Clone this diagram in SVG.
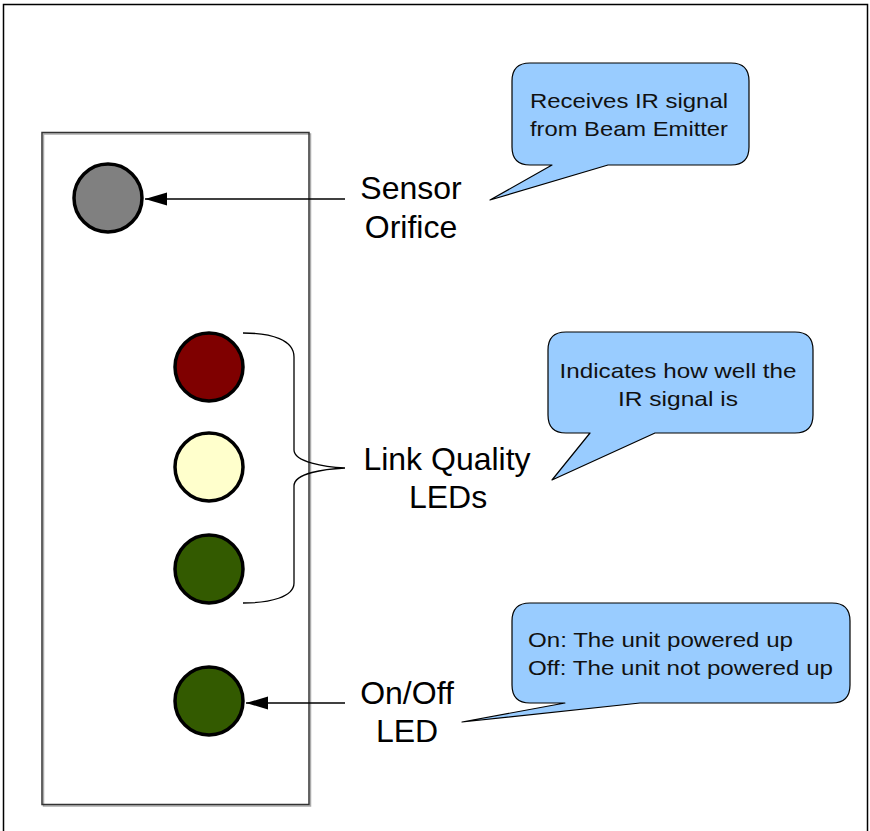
<svg xmlns="http://www.w3.org/2000/svg" width="870" height="831" viewBox="0 0 870 831">
<style>
.led{stroke:#000;stroke-width:3.5}
.lbl{font-family:"Liberation Sans",Arial,sans-serif;font-size:32px;fill:#000;text-anchor:middle}
.bub{fill:#99ccff;stroke:#000;stroke-width:1.2;stroke-linejoin:round}
.bt{font-family:"Liberation Sans",Arial,sans-serif;font-size:21px;fill:#111}
.conn{fill:none;stroke:#000;stroke-width:1.3}
</style>
<defs>
<marker id="ah" markerUnits="userSpaceOnUse" markerWidth="24" markerHeight="16" viewBox="0 0 24 16" refX="22" refY="8" orient="auto">
<path d="M0,1.5 L22,8 L0,14.5 Z" fill="#000"/>
</marker>
</defs>
<rect x="3.5" y="4.5" width="864" height="840" fill="#fff" stroke="#000" stroke-width="1.5"/>
<g id="panel">
<rect x="43.5" y="134" width="267" height="672" fill="none" stroke="#aaa" stroke-width="1.5"/>
<rect x="42" y="132.5" width="267" height="672" fill="none" stroke="#333" stroke-width="1.5"/>
</g>
<g id="sensor"><circle class="led" cx="108" cy="198" r="34" fill="#808080"/></g>
<g id="led-red"><circle class="led" cx="209" cy="367" r="34" fill="#7f0000"/></g>
<g id="led-yellow"><circle class="led" cx="209" cy="467" r="34" fill="#ffffcc"/></g>
<g id="led-green"><circle class="led" cx="209" cy="569" r="34" fill="#335a00"/></g>
<g id="led-power"><circle class="led" cx="209" cy="701" r="34" fill="#335a00"/></g>
<g id="connectors">
<path class="conn" d="M345,199 L145,199" marker-end="url(#ah)"/>
<path class="conn" d="M345,703 L246,703" marker-end="url(#ah)"/>
<path class="conn" d="M243,333 C272,333 294,340 294,357 L294,450 C294,462 325,467 345,468 C325,469 294,473 294,486 L294,583 C294,597 270,603 243,603"/>
</g>
<g id="label-sensor">
<text class="lbl" x="411" y="199">Sensor</text>
<text class="lbl" x="411" y="238">Orifice</text>
</g>
<g id="label-link">
<text class="lbl" x="447" y="470">Link Quality</text>
<text class="lbl" x="448" y="508">LEDs</text>
</g>
<g id="label-power">
<text class="lbl" x="407" y="704">On/Off</text>
<text class="lbl" x="407" y="742">LED</text>
</g>
<g id="callout-sensor">
<path class="bub" d="M530,63 L731,63 Q749,63 749,81 L749,147 Q749,165 731,165 L608,165 L490,200 L552,165 L530,165 Q512,165 512,147 L512,81 Q512,63 530,63 Z"/>
<text class="bt" x="629" y="108" text-anchor="middle" textLength="198" lengthAdjust="spacingAndGlyphs">Receives IR signal</text>
<text class="bt" x="629" y="136" text-anchor="middle" textLength="198" lengthAdjust="spacingAndGlyphs">from Beam Emitter</text>
</g>
<g id="callout-link">
<path class="bub" d="M566,332 L795,332 Q813,332 813,350 L813,415 Q813,433 795,433 L655,433 L552,480 L590,433 L566,433 Q548,433 548,415 L548,350 Q548,332 566,332 Z"/>
<text class="bt" x="678" y="378" text-anchor="middle" textLength="237" lengthAdjust="spacingAndGlyphs">Indicates how well the</text>
<text class="bt" x="678" y="406" text-anchor="middle" textLength="120" lengthAdjust="spacingAndGlyphs">IR signal is</text>
</g>
<g id="callout-power">
<path class="bub" d="M530,603 L832,603 Q850,603 850,621 L850,685 Q850,703 832,703 L640,703 L462,722 L565,703 L530,703 Q512,703 512,685 L512,621 Q512,603 530,603 Z"/>
<text class="bt" x="528" y="647" textLength="265" lengthAdjust="spacingAndGlyphs">On: The unit powered up</text>
<text class="bt" x="528" y="675" textLength="305" lengthAdjust="spacingAndGlyphs">Off: The unit not powered up</text>
</g>
</svg>
